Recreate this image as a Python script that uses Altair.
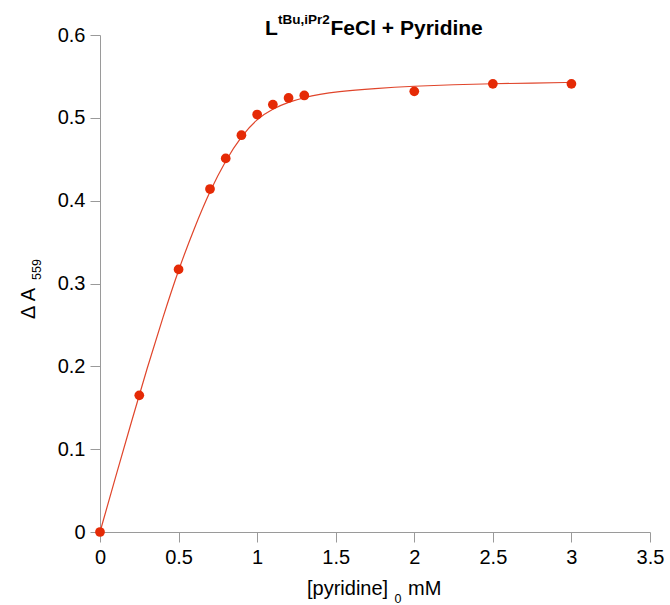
import altair as alt
import pandas as pd

FONT = "Liberation Sans"

# observed points
x_obs = [0, 0.25, 0.5, 0.7, 0.8, 0.9, 1.0, 1.1, 1.2, 1.3, 2.0, 2.5, 3.0]
y_obs = [0, 0.165, 0.317, 0.414, 0.451, 0.479, 0.504, 0.516, 0.524, 0.527, 0.532, 0.541, 0.541]

# fitted curve
x_fit = [0, 0.1, 0.2, 0.3, 0.4, 0.5, 0.6, 0.7, 0.8, 0.9, 1.0, 1.1, 1.2, 1.3, 1.4, 1.5,
         1.75, 2.0, 2.25, 2.5, 2.75, 3.0]
y_fit = [0, 0.067, 0.133, 0.198, 0.259, 0.317, 0.367, 0.412, 0.449, 0.478, 0.499, 0.511,
         0.519, 0.5245, 0.5285, 0.5315, 0.5355, 0.5383, 0.540, 0.5412, 0.542, 0.5428]

x_ticks = [0, 0.5, 1, 1.5, 2, 2.5, 3, 3.5]
y_ticks = [0, 0.1, 0.2, 0.3, 0.4, 0.5, 0.6]

obs = pd.DataFrame({"c": x_obs, "dA": y_obs})
fit = pd.DataFrame({"c": x_fit, "dA": y_fit})

xs = alt.Scale(domain=[0, 3.5], nice=False)
ys = alt.Scale(domain=[0, 0.6], nice=False)

axis_common = dict(
    domainColor="#9a9a9a", tickColor="#9a9a9a", tickSize=10, labelPadding=5,
    labelFontSize=20, labelFont=FONT, labelColor="black", grid=False, title=None,
    format="~g", zindex=0, labelFlush=False, labelOverlap=False,
)

line = alt.Chart(fit).mark_line(color="#e0452b", strokeWidth=1.2, interpolate="basis").encode(
    x=alt.X("c:Q", scale=xs, axis=alt.Axis(values=x_ticks, **axis_common)),
    y=alt.Y("dA:Q", scale=ys, axis=alt.Axis(values=y_ticks, **axis_common)),
)
pts = alt.Chart(obs).mark_circle(size=95, color="#e52a06", opacity=1).encode(
    x=alt.X("c:Q", scale=xs), y=alt.Y("dA:Q", scale=ys)
)


def label(text, x, y, size, bold=False, angle=0):
    return alt.Chart(pd.DataFrame({"t": [text]})).mark_text(
        align="left", baseline="alphabetic", fontSize=size, font=FONT,
        fontWeight="bold" if bold else "normal", angle=angle, color="black",
    ).encode(x=alt.value(x), y=alt.value(y), text="t:N")


texts = [
    label("L", 165, 0, 21, bold=True),
    label("tBu,iPr2", 178, -11, 13.5, bold=True),
    label("FeCl + Pyridine", 230.5, 0, 21, bold=True),
    label("Δ A", -65, 284, 20, angle=270),
    label("559", -59, 245, 12.5, angle=270),
    label("[pyridine]", 207, 560, 20),
    label("0", 294.5, 568, 12.5),
    label("mM", 308, 560, 20),
]

chart = alt.layer(line, pts, *texts).properties(
    width=550, height=497,
    padding={"left": 100, "top": 35, "right": 20, "bottom": 73},
    autosize=alt.AutoSizeParams(type="none"),
).configure_view(stroke=None)

chart.save("out.html", embed_options={"renderer": "svg", "actions": False})
